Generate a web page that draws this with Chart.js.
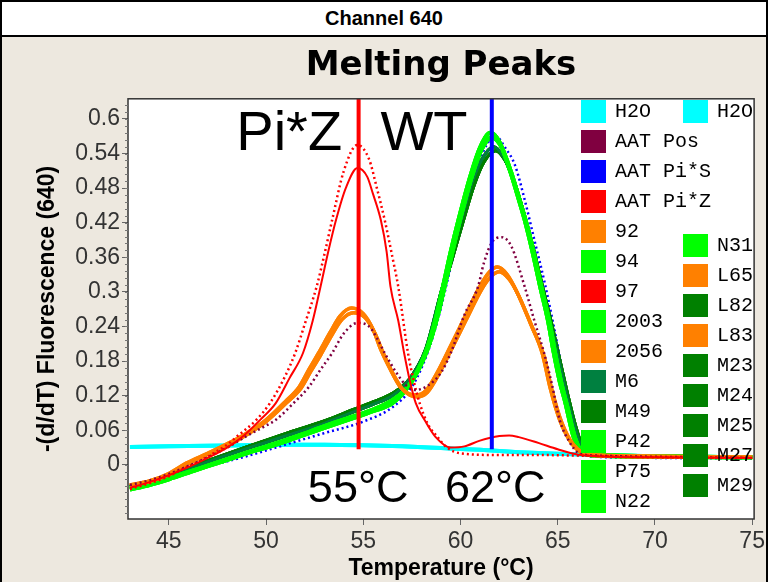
<!DOCTYPE html>
<html>
<head>
<meta charset="utf-8">
<script src="https://cdn.jsdelivr.net/npm/chart.js@4.4.0/dist/chart.umd.min.js"></script>
<style>
  body { margin: 0; background: #fff; }
  #wrap { position: relative; width: 768px; height: 582px; background: #EDE8DF; overflow: hidden; }
  #wrap canvas { position: absolute; left: 0; top: 0; }
  #head { position: absolute; left: 0; top: 0; width: 768px; height: 37px; box-sizing: border-box;
          background: #fff; border: 2px solid #000; text-align: center;
          font: bold 20px 'Liberation Sans', Arial, sans-serif; line-height: 33px; }
  .side { position: absolute; top: 0; width: 2px; height: 582px; background: #000; }
</style>
</head>
<body>
<div id="wrap">
  <canvas id="melt" width="768" height="582"></canvas>
  <div id="head">Channel 640</div>
  <div class="side" style="left:0"></div>
  <div class="side" style="right:0"></div>
</div>
<script>
// melting peak profiles, [temperature, -(d/dT)]
const h2o = [[43,0.031],[45,0.032],[47,0.033],[49,0.034],[51,0.035],[53,0.035],[55,0.034],[57,0.032],
  [59,0.029],[61,0.026],[63,0.022],[65,0.019],[67,0.017],[70,0.015],[75,0.013]];
const piZCtrl = [[43,-0.042],[44,-0.032],[45,-0.02],[45.6,-0.009],[46.5,0.005],[47.3,0.02],[48,0.035],
  [48.5,0.049],[49.5,0.078],[50.2,0.107],[51,0.155],[51.5,0.194],[52,0.245],[52.6,0.309],[53,0.365],
  [53.4,0.425],[54,0.51],[54.7,0.555],[55.3,0.53],[55.7,0.48],[56.1,0.425],[56.5,0.36],[56.8,0.309],
  [57.3,0.194],[57.6,0.145],[57.9,0.107],[58.3,0.072],[58.8,0.049],[59.3,0.03],[60,0.02],[62,0.017],
  [64,0.017],[66,0.016],[70,0.013],[75,0.012]];
const s97 = [[43,-0.04],[44,-0.03],[45,-0.018],[46,-0.004],[47,0.012],[48,0.03],[48.8,0.049],[49.7,0.078],
  [50.5,0.107],[51.2,0.15],[51.9,0.194],[52.4,0.25],[52.8,0.309],[53.2,0.37],[53.6,0.425],[54.1,0.48],
  [54.7,0.515],[55.2,0.5],[55.5,0.47],[55.9,0.425],[56.2,0.37],[56.4,0.309],[56.8,0.25],[57.1,0.194],
  [57.4,0.145],[57.7,0.107],[58.2,0.075],[58.7,0.049],[59.5,0.03],[60.2,0.032],[61,0.042],[62,0.05],
  [62.5,0.051],[63,0.048],[64,0.038],[65,0.027],[66,0.018],[67,0.015],[70,0.013],[75,0.012]];
const orangeA = [[43,-0.035],[44,-0.028],[45,-0.015],[45.9,0.003],[47,0.02],[48.1,0.038],[49,0.055],
  [50,0.078],[51,0.11],[51.7,0.135],[52.2,0.165],[52.7,0.194],[53.3,0.23],[53.8,0.258],[54.4,0.272],
  [55,0.262],[55.5,0.235],[55.9,0.2],[56.4,0.165],[56.9,0.135],[57.3,0.124],[57.7,0.121],[58.2,0.128],
  [58.8,0.16],[59.4,0.2],[60.2,0.255],[61,0.31],[61.5,0.335],[61.9,0.343],[62.4,0.33],[62.9,0.3],
  [63.6,0.245],[64.2,0.194],[64.6,0.135],[65.1,0.078],[65.7,0.038],[66.2,0.022],[67,0.017],[70,0.015],[75,0.013]];
const orangeB = [[43,-0.036],[44,-0.029],[45,-0.017],[46,0.002],[47,0.018],[48.2,0.036],[49,0.052],
  [50,0.075],[51,0.106],[51.8,0.133],[52.3,0.162],[52.8,0.19],[53.4,0.226],[53.9,0.252],[54.5,0.264],
  [55.1,0.255],[55.6,0.228],[56,0.196],[56.5,0.16],[57,0.132],[57.4,0.121],[57.8,0.118],[58.3,0.126],
  [58.9,0.158],[59.5,0.198],[60.3,0.252],[61.1,0.305],[61.6,0.328],[62,0.335],[62.5,0.322],[63,0.293],
  [63.7,0.238],[64.3,0.188],[64.7,0.13],[65.2,0.074],[65.8,0.035],[66.3,0.021],[67,0.016],[70,0.014],[75,0.013]];
const aatPos = [[43,-0.035],[44,-0.027],[45,-0.016],[46,-0.002],[47,0.013],[48,0.03],[49,0.05],[50,0.068],
  [50.5,0.078],[51.5,0.11],[52.2,0.135],[52.8,0.165],[53.4,0.194],[54,0.228],[54.7,0.246],[55.3,0.24],
  [55.7,0.22],[56.1,0.194],[56.7,0.16],[57.2,0.138],[57.7,0.13],[58.3,0.137],[59,0.16],[59.5,0.194],
  [60.2,0.26],[60.9,0.309],[61.2,0.35],[61.6,0.385],[62.1,0.395],[62.6,0.38],[63.3,0.309],[63.8,0.25],
  [64.3,0.194],[64.7,0.14],[65.1,0.078],[65.6,0.04],[66.1,0.02],[67,0.016],[70,0.014],[75,0.012]];
const limeA = [[43,-0.043],[44,-0.035],[45,-0.025],[46.4,-0.009],[47.5,0.003],[49,0.02],[50.5,0.035],
  [51.7,0.049],[53,0.064],[54.4,0.08],[55.5,0.093],[56.5,0.107],[57.3,0.135],[58.2,0.194],[58.7,0.25],
  [59.1,0.309],[59.5,0.37],[59.9,0.425],[60.5,0.5],[61,0.55],[61.55,0.576],[62,0.56],[62.5,0.515],
  [63,0.46],[63.3,0.425],[63.7,0.37],[64.1,0.309],[64.5,0.25],[64.8,0.194],[65.1,0.145],[65.4,0.107],
  [65.8,0.05],[66.2,0.022],[67,0.017],[70,0.015],[75,0.013]];
const limeB = [[43,-0.041],[44,-0.033],[45,-0.023],[46.5,-0.007],[47.5,0.004],[49,0.021],[50.5,0.037],
  [51.7,0.051],[53,0.067],[54.4,0.083],[55.5,0.096],[56.5,0.112],[57.4,0.14],[58.3,0.2],[58.8,0.255],
  [59.2,0.312],[59.6,0.372],[60,0.428],[60.6,0.502],[61.1,0.548],[61.6,0.568],[62.1,0.552],[62.6,0.508],
  [63.1,0.452],[63.4,0.418],[63.8,0.362],[64.2,0.302],[64.6,0.243],[64.9,0.188],[65.2,0.14],[65.5,0.1],
  [65.9,0.046],[66.3,0.021],[67,0.016],[70,0.014],[75,0.013]];
const darkA = [[43,-0.038],[44,-0.03],[45,-0.02],[47,0.005],[49,0.028],[51,0.05],[53,0.072],[54.5,0.092],
  [55.5,0.105],[56.5,0.12],[57.3,0.145],[58.2,0.2],[59,0.3],[59.5,0.36],[60,0.42],[60.6,0.49],[61.1,0.53],
  [61.7,0.552],[62.2,0.535],[62.7,0.495],[63.2,0.44],[63.6,0.39],[64.1,0.32],[64.6,0.25],[65,0.19],
  [65.4,0.13],[65.8,0.075],[66.2,0.033],[66.7,0.019],[68,0.016],[75,0.013]];
const darkB = [[43,-0.037],[44,-0.029],[45,-0.018],[47,0.007],[49,0.031],[51,0.054],[53,0.076],[54.5,0.096],
  [55.5,0.109],[56.5,0.124],[57.4,0.15],[58.3,0.205],[59.1,0.302],[59.6,0.36],[60.1,0.418],[60.7,0.485],
  [61.2,0.525],[61.8,0.545],[62.3,0.528],[62.8,0.488],[63.3,0.432],[63.7,0.382],[64.2,0.312],[64.7,0.243],
  [65.1,0.183],[65.5,0.124],[65.9,0.07],[66.3,0.03],[66.8,0.018],[68,0.016],[75,0.013]];
const piSCtrl = [[43,-0.04],[45,-0.025],[47,-0.003],[49,0.015],[51,0.035],[53,0.055],[55,0.075],[56.5,0.1],
  [57.5,0.135],[58.3,0.194],[58.9,0.26],[59.4,0.33],[59.9,0.4],[60.4,0.46],[61,0.53],[61.8,0.57],
  [62.3,0.55],[62.8,0.52],[63.3,0.46],[63.8,0.39],[64.3,0.32],[64.8,0.24],[65.2,0.17],[65.6,0.1],
  [66,0.04],[66.4,0.018],[67,0.014],[70,0.012],[75,0.011]];

// legend order: first column, then second column
const seriesNames = ['H2O','AAT Pos','AAT Pi*S','AAT Pi*Z','92','94','97','2003','2056','M6','M49','P42','P75','N22',
  'H2O','N31','L65','L82','L83','M23','M24','M25','M27','M29'];
const seriesColors = ['#00FFFF','#800040','#0000FF','#FF0000','#FF8000','#00FF00','#FF0000','#00FF00','#FF8000',
  '#008040','#008000','#00FF00','#00FF00','#00FF00',
  '#00FFFF','#00FF00','#FF8000','#008000','#FF8000','#008000','#008000','#008000','#008000','#008000'];
const seriesData = [h2o, aatPos, piSCtrl, piZCtrl, orangeA, limeA, s97, limeB, orangeB, darkA, darkB, limeA, limeB, limeA,
  h2o, limeB, orangeA, darkA, orangeB, darkB, darkA, darkB, darkA, darkB];

// Tm marker lines
const markerTemps = [54.76, 61.61];
const markerColors = ['#FF0000', '#0000FF'];
const markerSpan = [0.027, 0.64];

const xTicks = [45, 50, 55, 60, 65, 70, 75];

const datasets = [];
markerTemps.forEach((t, i) => {
  datasets.push({
    label: 'marker' + i,
    data: markerSpan.map(v => ({x: t, y: v})),
    borderColor: markerColors[i], borderWidth: 4, pointRadius: 0, order: 0
  });
});
seriesNames.forEach((name, i) => {
  const ctrl = name.startsWith('AAT');
  const col = seriesColors[i];
  let order = 5, width = 3;
  if (col === '#00FFFF') { order = 9; width = 4; }
  if (col === '#FF0000') { order = 1; width = 2; }
  if (col === '#FF8000') { order = 3; width = 3.5; }
  if (col === '#00FF00') { order = 4; width = 4; }
  if (col === '#008000' || col === '#008040') order = 6;
  if (ctrl) { width = 2.5; order = col === '#0000FF' ? 7 : 2; }
  datasets.push({
    label: name,
    data: seriesData[i].map(p => ({x: p[0], y: p[1]})),
    borderColor: col, borderWidth: width,
    borderDash: ctrl ? [2, 3] : [],
    pointRadius: 0, cubicInterpolationMode: 'monotone', order: order
  });
});

const plotDeco = {
  id: 'plotDeco',
  beforeDatasetsDraw(chart) {
    const a = chart.chartArea, ctx = chart.ctx;
    ctx.save();
    ctx.fillStyle = '#fff';
    ctx.fillRect(a.left, a.top, a.right - a.left, a.bottom - a.top);
    ctx.restore();
  },
  afterDatasetsDraw(chart) {
    const ctx = chart.ctx, xs = chart.scales.x, ys = chart.scales.y, a = chart.chartArea;
    ctx.save();
    ctx.fillStyle = '#000';
    ctx.textBaseline = 'alphabetic';
    ctx.font = '56px "Liberation Sans", Arial, sans-serif';
    ctx.fillText('Pi*Z', xs.getPixelForValue(48.47), ys.getPixelForValue(0.546));
    ctx.fillText('WT', xs.getPixelForValue(55.88), ys.getPixelForValue(0.546));
    ctx.font = '45px "Liberation Sans", Arial, sans-serif';
    ctx.fillText('55°C', xs.getPixelForValue(52.15), ys.getPixelForValue(-0.064));
    ctx.fillText('62°C', xs.getPixelForValue(59.2), ys.getPixelForValue(-0.064));

    // legend
    ctx.font = '20px "Liberation Mono", monospace';
    ctx.textBaseline = 'middle';
    seriesNames.forEach((name, i) => {
      let x = 581, y = 100 + i * 30;
      if (i === 14) { x = 683; y = 100; }
      else if (i > 14) { x = 683; y = 234 + (i - 15) * 30; }
      ctx.fillStyle = seriesColors[i];
      ctx.fillRect(x, y, 25, 23);
      ctx.fillStyle = '#000';
      ctx.fillText(name, x + 34, y + 12);
    });

    // frame and minor ticks
    ctx.strokeStyle = '#333';
    ctx.lineWidth = 1.5;
    ctx.strokeRect(a.left, a.top, a.right - a.left, a.bottom - a.top);
    ctx.lineWidth = 1;
    ctx.strokeStyle = '#777';
    for (let k = -7; k <= 52; k++) {
      const py = Math.round(ys.getPixelForValue(k * 0.012)) + 0.5;
      if (py < a.top || py > a.bottom) continue;
      ctx.beginPath();
      ctx.moveTo(a.left - 3, py);
      ctx.lineTo(a.left, py);
      ctx.stroke();
    }
    ctx.restore();
  }
};

new Chart(document.getElementById('melt'), {
  type: 'line',
  data: { datasets: datasets },
  plugins: [plotDeco],
  options: {
    responsive: false,
    animation: false,
    layout: { padding: { left: 2, right: 10, top: 37, bottom: 0 } },
    plugins: {
      legend: { display: false },
      tooltip: { enabled: false },
      title: {
        display: true, text: 'Melting Peaks', color: '#000', fullSize: false,
        font: { family: '"DejaVu Sans", sans-serif', size: 34, weight: 'bold', lineHeight: 1.2 },
        padding: { top: 9, bottom: 12 }
      }
    },
    scales: {
      x: {
        type: 'linear', min: 42.9, max: 75.1,
        afterFit: s => { s.height = 63; },
        afterBuildTicks: s => { s.ticks = xTicks.map(v => ({value: v})); },
        grid: { drawOnChartArea: false, drawTicks: true, tickLength: 6, color: '#666' },
        border: { display: false },
        ticks: { color: '#333', padding: 3, font: { family: '"Liberation Sans", Arial, sans-serif', size: 23 } },
        title: { display: true, text: 'Temperature (°C)', color: '#000', padding: { top: 0, bottom: 0 },
          font: { family: '"Liberation Sans", Arial, sans-serif', size: 23, weight: 'bold' } }
      },
      y: {
        min: -0.094, max: 0.635,
        afterFit: s => { s.width = 126; },
        afterBuildTicks: s => {
          const t = [];
          for (let k = 0; k <= 10; k++) t.push({value: Math.round(k * 6) / 100});
          s.ticks = t;
        },
        grid: { drawOnChartArea: false, drawTicks: true, tickLength: 6, color: '#666' },
        border: { display: false },
        ticks: { color: '#333', padding: 2, font: { family: '"Liberation Sans", Arial, sans-serif', size: 23 },
          callback: v => String(parseFloat(v.toFixed(2))) },
        title: { display: true, text: '-(d/dT) Fluorescence (640)', color: '#000', padding: { top: 32, bottom: 0 },
          font: { family: '"Liberation Sans", Arial, sans-serif', size: 23, weight: 'bold' } }
      }
    }
  }
});
</script>
</body>
</html>
